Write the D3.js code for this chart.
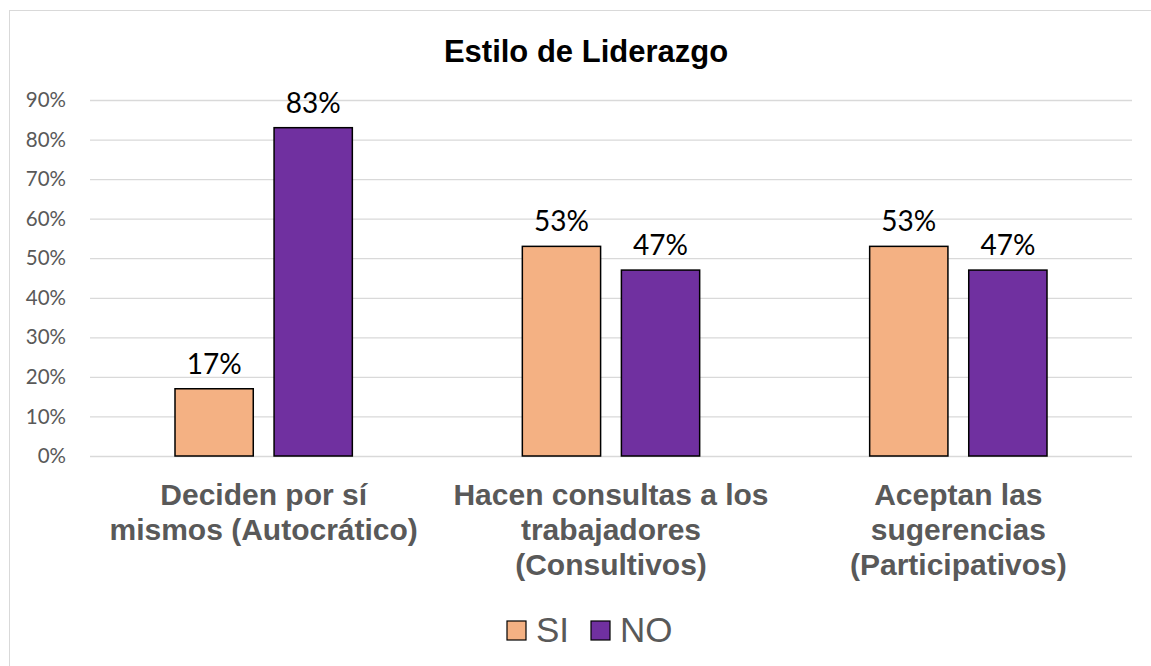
<!DOCTYPE html>
<html>
<head>
<meta charset="utf-8">
<script src="https://cdn.jsdelivr.net/npm/d3@7"></script>
<style>
  body { margin: 0; background: #fff; }
  svg { display: block; }
</style>
</head>
<body>
<div id="chart"></div>
<script>
// chart data
const categories = [
    ["Deciden por sí", "mismos (Autocrático)"],
    ["Hacen consultas a los", "trabajadores", "(Consultivos)"],
    ["Aceptan las", "sugerencias", "(Participativos)"]
];
const seriesNames = ["SI", "NO"];
const siValues = [0.17, 0.53, 0.53];
const noValues = [0.83, 0.47, 0.47];
const yTicks = [0, 0.1, 0.2, 0.3, 0.4, 0.5, 0.6, 0.7, 0.8, 0.9];
const colors = ["#F4B183", "#7030A0"];

const w = 1151;
const h = 666;
const plotLeft = 90, plotRight = 1132, plotTop = 100, plotBottom = 456;

const svg = d3.select("#chart").append("svg")
              .attr("width", w)
              .attr("height", h);

// outer frame
svg.append("rect")
   .attr("x", 9.5).attr("y", 10.5)
   .attr("width", w).attr("height", h)
   .attr("fill", "#fff")
   .attr("stroke", "#d9d9d9")
   .attr("stroke-width", 1);

svg.append("text")
   .attr("x", 586).attr("y", 62)
   .attr("text-anchor", "middle")
   .style("font-family", "Arial, 'Liberation Sans', sans-serif")
   .style("font-weight", "bold")
   .style("font-size", "31px")
   .attr("fill", "#000")
   .text("Estilo de Liderazgo");

const yScale = d3.scaleLinear().domain([0, 0.9]).range([plotBottom, plotTop]);

const x0 = d3.scaleBand()
             .domain(d3.range(categories.length))
             .range([plotLeft, plotRight]);

const x1 = d3.scaleBand()
             .domain(seriesNames)
             .range([85, x0.bandwidth() - 85])
             .paddingInner(0.21);

// gridlines + tick labels
const yAxis = d3.axisLeft(yScale)
                .tickValues(yTicks)
                .tickSize(-(plotRight - plotLeft))
                .tickPadding(24)
                .tickFormat(d3.format(".0%"));

const yg = svg.append("g")
              .attr("transform", `translate(${plotLeft}, 0)`)
              .call(yAxis);
yg.select(".domain").remove();
yg.selectAll("line").attr("stroke", "#d9d9d9").attr("stroke-width", 1.3);
yg.selectAll("text")
  .attr("fill", "#595959")
  .style("font-family", "Lato, 'Open Sans', sans-serif")
  .style("font-size", "20.5px");

const table = seriesNames.map((s, si) => ({
    key: s,
    values: (si === 0 ? siValues : noValues)
}));

const groups = svg.selectAll("g.series")
                  .data(table)
                  .enter().append("g")
                  .attr("class", "series")
                  .attr("fill", (d, i) => colors[i]);

groups.selectAll("rect")
      .data(d => d.values.map((v, i) => ({key: d.key, i: i, v: v})))
      .enter().append("rect")
      .attr("x", d => x0(d.i) + x1(d.key))
      .attr("width", x1.bandwidth())
      .attr("y", d => yScale(d.v))
      .attr("height", d => plotBottom - yScale(d.v))
      .attr("stroke", "#000")
      .attr("stroke-width", 1.5);

groups.selectAll("text.val")
      .data(d => d.values.map((v, i) => ({key: d.key, i: i, v: v})))
      .enter().append("text")
      .attr("class", "val")
      .attr("x", d => x0(d.i) + x1(d.key) + x1.bandwidth() / 2)
      .attr("y", d => yScale(d.v) - 15)
      .attr("text-anchor", "middle")
      .attr("fill", "#000")
      .style("font-family", "Lato, 'Open Sans', sans-serif")
      .style("font-size", "28px")
      .text(d => d3.format(".0%")(d.v));

// category labels
categories.forEach((lines, i) => {
    const t = svg.append("text")
                 .attr("text-anchor", "middle")
                 .attr("fill", "#595959")
                 .style("font-family", "Arial, 'Liberation Sans', sans-serif")
                 .style("font-weight", "bold")
                 .style("font-size", "30px");
    lines.forEach((line, j) => {
        t.append("tspan")
         .attr("x", x0(i) + x0.bandwidth() / 2)
         .attr("y", 505 + j * 35)
         .text(line);
    });
});

// legend
const legend = svg.append("g").attr("transform", "translate(507, 621)");
const legendX = [0, 84];
seriesNames.forEach((s, i) => {
    legend.append("rect")
          .attr("x", legendX[i]).attr("y", 0)
          .attr("width", 19).attr("height", 19)
          .attr("fill", colors[i])
          .attr("stroke", "#000")
          .attr("stroke-width", 1.2);
    legend.append("text")
          .attr("x", legendX[i] + 29).attr("y", 21)
          .attr("fill", "#595959")
          .style("font-family", "Arial, 'Liberation Sans', sans-serif")
          .style("font-size", "35px")
          .text(s);
});
</script>
</body>
</html>
